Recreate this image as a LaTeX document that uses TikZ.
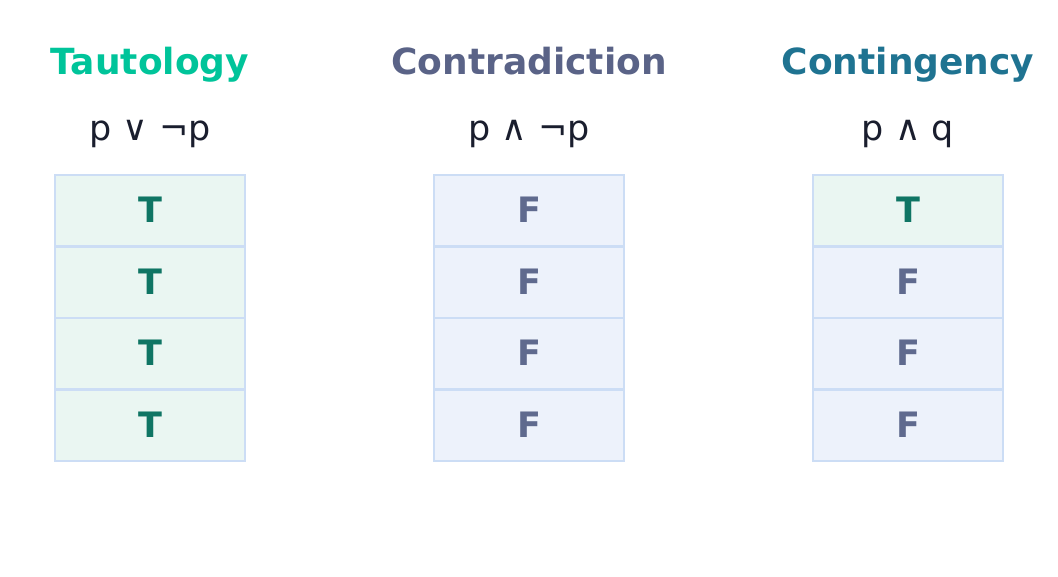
\documentclass[tikz,border=0pt]{standalone}
\usepackage{fontspec}
\setmainfont{DejaVu Sans}
\definecolor{tc}{HTML}{00C49A}
\definecolor{cc}{HTML}{5A6387}
\definecolor{gc}{HTML}{1F7391}
\definecolor{tt}{HTML}{0F7564}
\definecolor{ft}{HTML}{5F6A8E}
\definecolor{tf}{HTML}{EAF6F2}
\definecolor{ff}{HTML}{EDF2FB}
\definecolor{bd}{HTML}{CCDDF5}
\definecolor{fx}{HTML}{1A1E2E}
\begin{document}
\begin{tikzpicture}[x=1pt,y=-1pt,
 title/.style={font=\bfseries\fontsize{36}{40}\selectfont,anchor=base},
 formula/.style={font=\fontsize{35}{40}\selectfont,text=fx,anchor=base},
 cell/.style={draw=bd,line width=2.2pt,minimum width=190pt,minimum height=71.5pt,inner sep=0pt},
 tcell/.style={cell,fill=tf},
 fcell/.style={cell,fill=ff},
 val/.style={font=\bfseries\fontsize{35}{40}\selectfont,anchor=base}]
\useasboundingbox (0,0) rectangle (1058,577);
\node[title,text=tc] (t1) at (150,75) {Tautology};
\node[title,text=cc] (t2) at (529,75) {Contradiction};
\node[title,text=gc] (t3) at (908,75) {Contingency};
\node[formula] (f1) at (150,141) {p ∨ ¬p};
\node[formula] (f2) at (529,141) {p ∧ ¬p};
\node[formula] (f3) at (908,141) {p ∧ q};
\foreach \i in {0,1,2,3}{
 \node[tcell] (a\i) at (150,{210.75+71.5*\i}) {};
 \node[val,text=tt] at ([yshift=-12pt]a\i.center) {T};
 \node[fcell] (b\i) at (529,{210.75+71.5*\i}) {};
 \node[val,text=ft] at ([yshift=-12pt]b\i.center) {F};
}
\node[tcell] (c0) at (908,210.75) {};
\node[val,text=tt] at ([yshift=-12pt]c0.center) {T};
\foreach \i in {1,2,3}{
 \node[fcell] (c\i) at (908,{210.75+71.5*\i}) {};
 \node[val,text=ft] at ([yshift=-12pt]c\i.center) {F};
}
\end{tikzpicture}
\end{document}
